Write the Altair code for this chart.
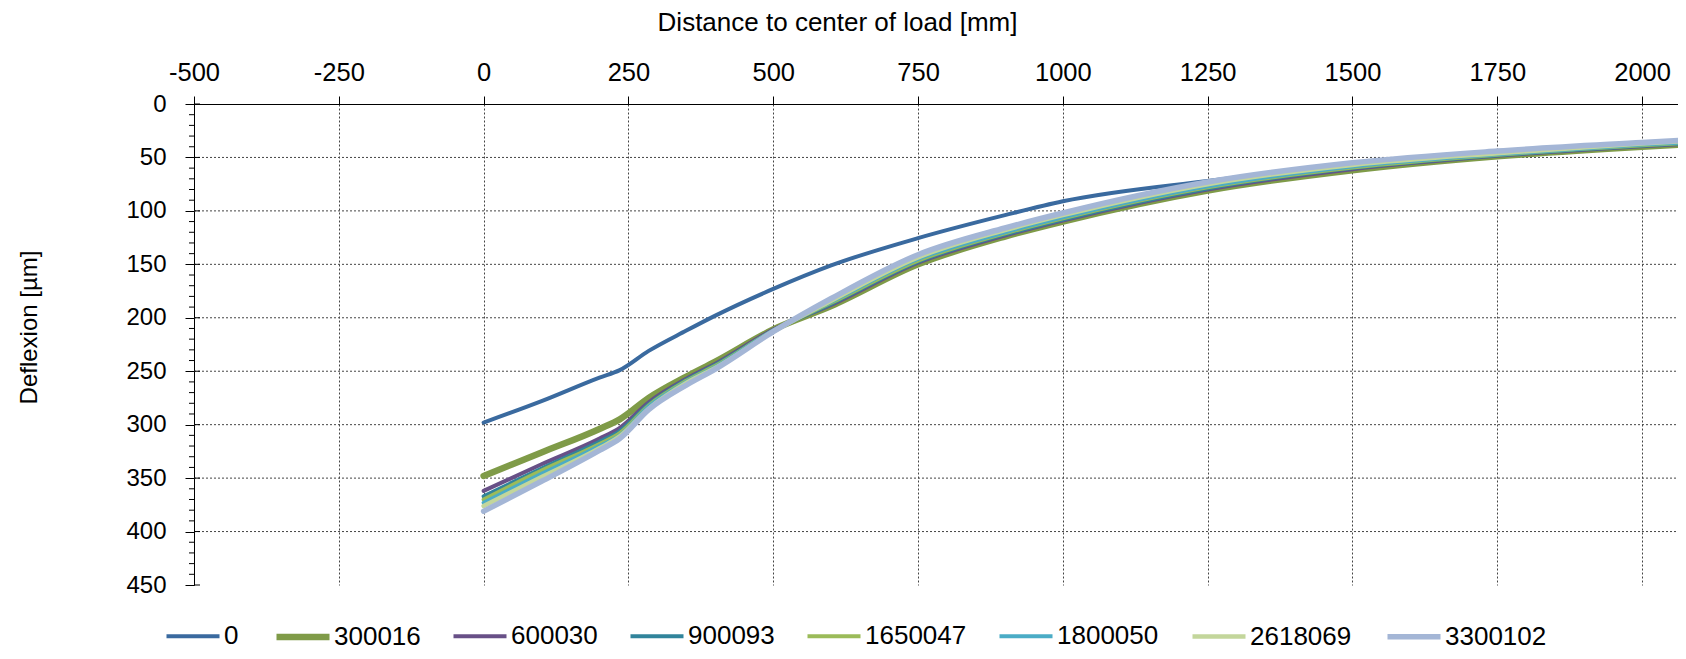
import altair as alt
import pandas as pd

# ---- data ----
distance = [0, 100, 200, 235, 285, 350, 400, 500, 600, 750, 900, 1000, 1250, 1500, 1750, 2000, 2100]
series_names = ["0", "300016", "600030", "900093", "1650047", "1800050", "2618069", "3300102"]
s_0 =       [298, 278, 256, 249, 231, 212, 198, 173, 151, 125.5, 104, 91, 72, 57, 47, 39, 36]
s_300016 =  [348, 326, 304, 295, 275, 255, 241, 211, 189, 150, 124, 110, 81, 62, 49, 40, 37]
s_600030 =  [362, 337, 313, 303, 279, 257, 243, 211, 188, 148.5, 123, 109, 80, 61, 48.5, 39.5, 36.5]
s_900093 =  [367, 341, 316, 306, 281, 258, 244, 212, 187, 147.5, 122, 108, 79, 60, 48, 39, 36]
s_1650047 = [370, 343, 318, 308, 282, 259, 245, 212, 186, 146.5, 121, 107, 78, 59.5, 47.5, 38.5, 35.5]
s_1800050 = [373, 346, 320, 310, 283, 260, 246, 212, 185, 145, 120, 106, 77, 58.5, 47, 38, 35]
s_2618069 = [376, 349, 322, 311, 285, 261, 247, 213, 184, 143.5, 118, 104, 75, 57, 46, 37, 34]
s_3300102 = [381, 353, 324, 313, 286, 263, 248, 213, 182, 141, 116, 102, 73, 55, 44, 36, 33]
all_series = [s_0, s_300016, s_600030, s_900093, s_1650047, s_1800050, s_2618069, s_3300102]

x_ticks = [-500, -250, 0, 250, 500, 750, 1000, 1250, 1500, 1750, 2000]
y_ticks = [0, 50, 100, 150, 200, 250, 300, 350, 400, 450]
y_grid = [50, 100, 150, 200, 250, 300, 350, 400]
y_minor = [10, 20, 30, 40, 60, 70, 80, 90, 110, 120, 130, 140, 160, 170, 180, 190,
           210, 220, 230, 240, 260, 270, 280, 290, 310, 320, 330, 340, 360, 370, 380, 390,
           410, 420, 430, 440]

# ---- styles ----
colors = ["#3A6A9F", "#7F9B48", "#685087", "#31849B", "#9BBB59", "#4BACC6", "#C3D69B", "#A4B6D6"]
widths = [4, 6.5, 4, 4, 4, 4, 4.5, 5.5]

W, H = 1484, 481
FONT = "Liberation Sans"

rows = []
for k, (name, vals) in enumerate(zip(series_names, all_series)):
    for d, v in zip(distance, vals):
        rows.append({"series": name, "distance": d, "deflexion": v, "k": k})
df = pd.DataFrame(rows)

xscale = alt.Scale(domain=[-500, 2062], nice=False, zero=False)
yscale = alt.Scale(domain=[0, 450], reverse=True, nice=False, zero=False)

yaxis = alt.Axis(
    values=y_ticks, title="Deflexion [µm]", grid=False,
    domainColor="black", tickColor="black", tickSize=9,
    labelPadding=19, labelFontSize=24, labelColor="black",
    labelFlush=False, labelOverlap=False, labelFont=FONT,
    titleFontSize=24, titleFontWeight="normal", titleColor="black", titleFont=FONT,
    titleX=-165, titleY=223, titleBaseline="middle", titleAlign="center",
)

xaxis = alt.Axis(
    orient="top", values=x_ticks, title="Distance to center of load [mm]",
    labelExpr="'' + datum.value",
    grid=True, gridColor="#444444", gridDash=[2, 2], gridWidth=1,
    domainColor="black", tickColor="black", tickSize=8,
    labelPadding=24, labelFontSize=25.5, labelBaseline="middle", labelColor="black",
    labelFlush=False, labelOverlap=False, labelFont=FONT,
    titleFontSize=26, titleFontWeight="normal", titleColor="black", titleFont=FONT,
    titleX=643, titleY=-82, titleBaseline="middle", titleAlign="center",
)

legend = alt.Legend(
    title=None, orient="none", legendX=-31, legendY=503, direction="horizontal",
    columns=8, columnPadding=24, labelFontSize=26, labelOffset=1, symbolSize=2809,
    symbolType="stroke", padding=0, labelColor="black", labelFont=FONT,
)

hgrid = alt.Chart(pd.DataFrame({"v": y_grid})).mark_rule(
    color="#444444", strokeDash=[2, 2], strokeWidth=1
).encode(y=alt.Y("v:Q", scale=yscale, axis=yaxis), x=alt.value(0), x2=alt.value(W))

lines = alt.Chart(df).mark_line(
    interpolate="monotone", clip=True, strokeCap="round", strokeJoin="round"
).encode(
    x=alt.X("distance:Q", scale=xscale, axis=xaxis),
    y=alt.Y("deflexion:Q", scale=yscale, axis=yaxis),
    color=alt.Color("series:N", scale=alt.Scale(domain=series_names, range=colors), legend=legend),
    strokeWidth=alt.StrokeWidth("series:N", scale=alt.Scale(type="ordinal", domain=series_names, range=widths), legend=legend),
    order=alt.Order("distance:Q"),
)

major_inner = alt.Chart(pd.DataFrame({"v": y_ticks})).mark_rule(color="black", strokeWidth=1).encode(
    y=alt.Y("v:Q", scale=yscale, axis=yaxis), x=alt.value(0), x2=alt.value(6))
minor = alt.Chart(pd.DataFrame({"v": y_minor})).mark_rule(color="black", strokeWidth=1).encode(
    y=alt.Y("v:Q", scale=yscale, axis=yaxis), x=alt.value(-5), x2=alt.value(0))

chart = alt.layer(hgrid, lines, major_inner, minor).properties(
    width=W, height=H,
    autosize=alt.AutoSizeParams(type="none"),
    padding={"left": 186, "top": 96, "right": 0, "bottom": 66},
).configure(font=FONT).configure_view(stroke=None)

chart.save("out.html", embed_options={"renderer": "svg", "actions": False})
